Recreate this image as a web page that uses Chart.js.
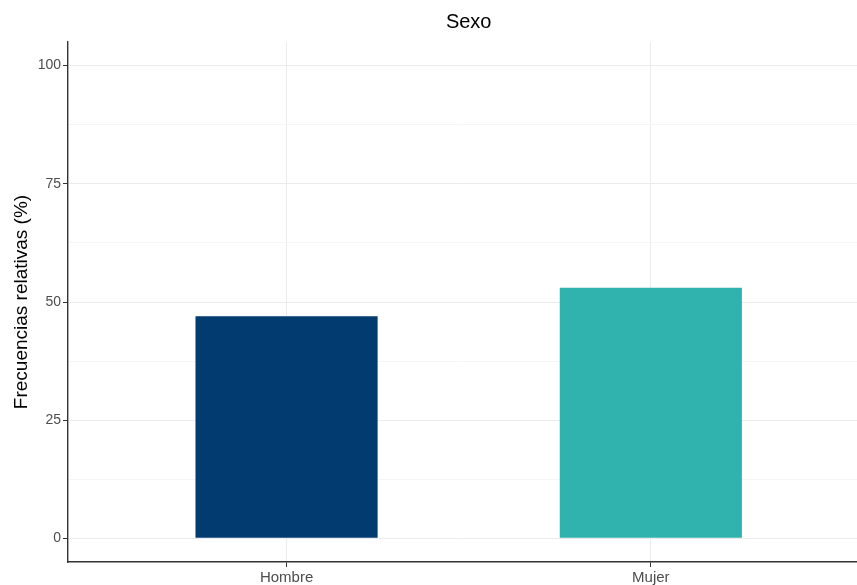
<!DOCTYPE html>
<html>
<head>
<meta charset="utf-8">
<script src="https://cdn.jsdelivr.net/npm/chart.js@4"></script>
<style>
  html, body { margin: 0; padding: 0; background: #ffffff; }
  #wrap { width: 857px; height: 585px; position: relative; }
</style>
</head>
<body>
<div id="wrap"><canvas id="c"></canvas></div>
<script>
// ---- data ----
const categories = ['Hombre', 'Mujer'];
const values = [47, 53];
const barColors = ['#013B6F', '#30B2AE'];
const yMajorTicks = [0, 25, 50, 75, 100];
const yMinorTicks = [12.5, 37.5, 62.5, 87.5];
const chartTitle = 'Sexo';
const yTitle = 'Frecuencias relativas (%)';

const FONT = '"Liberation Sans", Arial, sans-serif';

const titlePlugin = {
  id: 'panelTitle',
  afterDraw(chart) {
    const ctx = chart.ctx, xs = chart.scales.x;
    ctx.save();
    ctx.font = '20px ' + FONT;
    ctx.fillStyle = '#000000';
    ctx.textAlign = 'center';
    ctx.textBaseline = 'middle';
    ctx.fillText(chartTitle, xs.getPixelForValue(1.5), 22);
    ctx.restore();
  }
};

const yAll = yMajorTicks.concat(yMinorTicks).sort((a, b) => a - b);

new Chart(document.getElementById('c'), {
  type: 'bar',
  data: {
    datasets: [{
      data: values.map((v, i) => ({ x: i + 1, y: v })),
      backgroundColor: barColors,
      borderWidth: 0,
      categoryPercentage: 1,
      barPercentage: 0.5
    }]
  },
  plugins: [titlePlugin],
  options: {
    responsive: true,
    maintainAspectRatio: false,
    animation: false,
    layout: { padding: { top: 42, right: 0, bottom: 0, left: 0 } },
    plugins: { legend: { display: false }, tooltip: { enabled: false }, title: { display: false } },
    scales: {
      x: {
        type: 'linear',
        offset: false,
        min: 0.4,
        max: 2.566,
        afterBuildTicks(scale) { scale.ticks = categories.map((c, i) => ({ value: i + 1 })); },
        afterFit(scale) { scale.height = 23; },
        ticks: {
          callback: (v) => categories[Math.round(v) - 1] || '',
          color: '#4D4D4D',
          font: { family: FONT, size: 15 },
          padding: 2,
          maxRotation: 0,
          autoSkip: false
        },
        grid: { offset: false, color: '#EBEBEB', lineWidth: 1, tickLength: 5, tickColor: '#333333', drawTicks: true },
        border: { display: true, color: '#333333', width: 1.4 }
      },
      y: {
        type: 'linear',
        min: -5,
        max: 105,
        afterBuildTicks(scale) { scale.ticks = yAll.map(v => ({ value: v })); },
        afterFit(scale) { scale.width = 68; },
        ticks: {
          callback: (v) => yMajorTicks.includes(v) ? String(v) : '',
          color: '#4D4D4D',
          font: { family: FONT, size: 14 },
          padding: 2,
          autoSkip: false
        },
        grid: {
          color: (ctx) => yMajorTicks.includes(ctx.tick && ctx.tick.value) ? '#EBEBEB' : '#F5F5F5',
          lineWidth: 1,
          tickLength: 5,
          tickColor: (ctx) => yMajorTicks.includes(ctx.tick && ctx.tick.value) ? '#333333' : 'rgba(0,0,0,0)'
        },
        border: { display: true, color: '#333333', width: 1.4 },
        title: {
          display: true,
          text: yTitle,
          color: '#000000',
          font: { family: FONT, size: 19 },
          padding: { top: 10, bottom: 0 }
        }
      }
    }
  }
});
</script>
</body>
</html>
